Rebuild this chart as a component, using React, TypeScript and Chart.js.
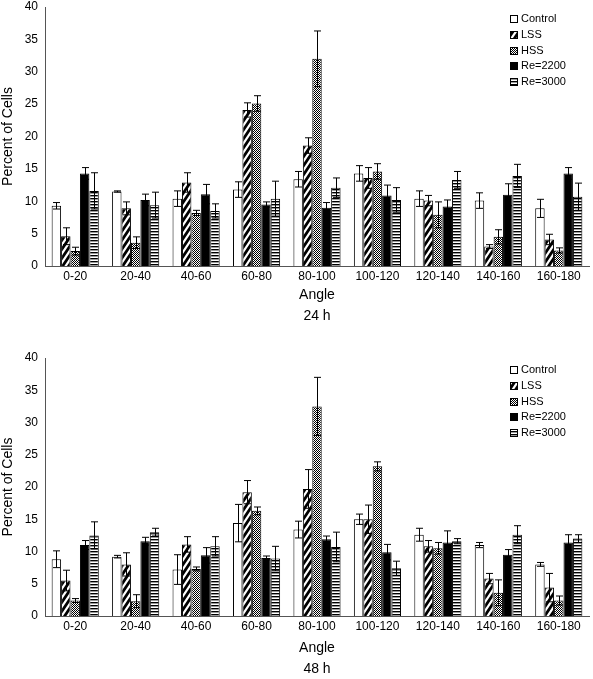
import React, { useEffect, useRef } from "react";
import { Chart, registerables } from "chart.js";
Chart.register(...registerables);

const FONT = "'Liberation Sans', Arial, Helvetica, sans-serif";

const categories = ["0-20", "20-40", "40-60", "60-80", "80-100", "100-120", "120-140", "140-160", "160-180"];
const seriesNames = ["Control", "LSS", "HSS", "Re=2200", "Re=3000"];
const yTicks = [0, 5, 10, 15, 20, 25, 30, 35, 40];

// 24 h
const control24 = [9.3, 11.5, 10.4, 11.8, 13.4, 14.3, 10.4, 10.1, 8.9];
const control24Err = [0.5, 0.1, 1.2, 1.2, 1.2, 1.2, 1.2, 1.2, 1.4];
const lss24 = [4.6, 8.9, 12.9, 24.1, 18.6, 13.6, 10.1, 3.0, 4.1];
const lss24Err = [1.3, 1.0, 1.5, 1.1, 1.2, 1.6, 0.8, 0.3, 0.8];
const hss24 = [2.3, 3.6, 8.2, 25.1, 32.0, 14.6, 7.9, 4.5, 2.4];
const hss24Err = [0.6, 0.9, 0.4, 1.2, 4.3, 1.2, 2.0, 1.1, 0.4];
const re2200_24 = [14.3, 10.2, 11.1, 9.5, 9.0, 10.9, 9.2, 11.0, 14.3];
const re2200_24Err = [0.9, 0.9, 1.5, 0.4, 0.8, 1.6, 1.0, 1.7, 0.9];
const re3000_24 = [11.6, 9.4, 8.5, 10.4, 12.1, 10.2, 13.3, 13.9, 10.7];
const re3000_24Err = [2.8, 2.0, 1.1, 2.7, 1.5, 1.9, 1.3, 1.8, 2.1];

// 48 h
const control48 = [8.8, 9.2, 7.2, 14.4, 13.4, 15.0, 12.6, 11.0, 8.0];
const control48Err = [1.3, 0.2, 2.3, 2.9, 1.3, 0.8, 1.0, 0.4, 0.3];
const lss48 = [5.5, 8.0, 11.1, 19.2, 19.7, 15.0, 10.8, 5.8, 4.4];
const lss48Err = [1.6, 1.8, 1.2, 1.8, 3.0, 2.2, 0.9, 0.8, 2.2];
const hss48 = [2.4, 2.3, 7.3, 16.3, 32.5, 23.2, 10.5, 3.6, 2.4];
const hss48Err = [0.3, 1.0, 0.3, 0.6, 4.5, 0.7, 0.9, 2.0, 0.7];
const re2200_48 = [11.0, 11.6, 9.4, 9.0, 11.9, 9.9, 11.4, 9.5, 11.4];
const re2200_48Err = [0.7, 0.6, 1.2, 0.3, 0.5, 1.2, 1.8, 0.8, 1.2];
const re3000_48 = [12.5, 13.0, 10.8, 8.9, 10.7, 7.4, 11.6, 12.6, 12.0];
const re3000_48Err = [2.1, 0.6, 1.5, 1.9, 2.3, 1.1, 0.4, 1.4, 0.6];

function makePattern(kind: string): any {
  const c = document.createElement("canvas");
  const g = c.getContext("2d")!;
  if (kind === "diag") {
    const w = 6, h = 9;
    c.width = w; c.height = h;
    g.fillStyle = "#fff"; g.fillRect(0, 0, w, h);
    g.strokeStyle = "#000"; g.lineWidth = 2.8;
    g.beginPath();
    for (let k = -1; k <= 1; k++) {
      g.moveTo(k * w - w, 2 * h);
      g.lineTo(k * w + 2 * w, -h);
    }
    g.stroke();
  } else if (kind === "checker") {
    c.width = 2; c.height = 2;
    g.fillStyle = "#fff"; g.fillRect(0, 0, 2, 2);
    g.fillStyle = "#000"; g.fillRect(0, 0, 1, 1); g.fillRect(1, 1, 1, 1);
  } else if (kind === "hlines") {
    c.width = 4; c.height = 3;
    g.fillStyle = "#fff"; g.fillRect(0, 0, 4, 3);
    g.fillStyle = "#000"; g.fillRect(0, 0, 4, 1);
    g.fillStyle = "#999"; g.fillRect(0, 1, 4, 1);
  } else {
    return kind;
  }
  return g.createPattern(c, "repeat");
}

const errorBarPlugin = {
  id: "errorBars",
  afterDatasetsDraw(chart: any, _args: any, opts: any) {
    const errs: number[][] = opts.errors || [];
    const ctx = chart.ctx;
    const y = chart.scales.y;
    ctx.save();
    ctx.strokeStyle = "#000";
    ctx.lineWidth = 1;
    chart.data.datasets.forEach((ds: any, i: number) => {
      const meta = chart.getDatasetMeta(i);
      meta.data.forEach((bar: any, j: number) => {
        const v = ds.data[j];
        const e = errs[i] ? errs[i][j] : 0;
        if (!e) return;
        const x = Math.round(bar.x) + 0.5;
        const yt = y.getPixelForValue(v + e);
        const yb = y.getPixelForValue(Math.max(0, v - e));
        const hw = 3.5;
        ctx.beginPath();
        ctx.moveTo(x, yt); ctx.lineTo(x, yb);
        ctx.moveTo(x - hw, yt); ctx.lineTo(x + hw, yt);
        ctx.moveTo(x - hw, yb); ctx.lineTo(x + hw, yb);
        ctx.stroke();
      });
    });
    ctx.restore();
  },
};

const legendPlugin = {
  id: "patternLegend",
  afterDraw(chart: any) {
    const ctx = chart.ctx;
    const area = chart.chartArea;
    const x0 = area.right - 79;
    ctx.save();
    ctx.font = "11px " + FONT;
    ctx.textBaseline = "middle";
    ctx.textAlign = "left";
    chart.data.datasets.forEach((ds: any, i: number) => {
      const cy = area.top + 12 + i * 15.8;
      ctx.fillStyle = ds.backgroundColor;
      ctx.fillRect(x0, Math.round(cy - 4), 8, 8);
      ctx.strokeStyle = "#000";
      ctx.lineWidth = 1;
      ctx.strokeRect(x0 + 0.5, Math.round(cy - 4) + 0.5, 7, 7);
      ctx.fillStyle = "#000";
      ctx.fillText(ds.label, x0 + 11, cy);
    });
    ctx.restore();
  },
};

type PanelProps = {
  values: number[][];
  errors: number[][];
  subtitle: string;
  top: number;
  height: number;
  padTop: number;
  xHeight: number;
};

function Panel({ values, errors, subtitle, top, height, padTop, xHeight }: PanelProps) {
  const ref = useRef<HTMLCanvasElement>(null);
  useEffect(() => {
    const fills = ["#fff", makePattern("diag"), makePattern("checker"), "#000", makePattern("hlines")];
    const chart = new Chart(ref.current!, {
      type: "bar",
      data: {
        labels: categories,
        datasets: seriesNames.map((name, i) => ({
          label: name,
          data: values[i],
          backgroundColor: fills[i],
          borderColor: "#000",
          borderWidth: 1,
          barPercentage: 1,
          categoryPercentage: 0.78,
        })),
      },
      options: {
        responsive: false,
        animation: false,
        layout: { padding: { top: padTop, right: 4, left: 0, bottom: 0 } },
        plugins: {
          legend: { display: false },
          tooltip: { enabled: false },
          errorBars: { errors },
        } as any,
        scales: {
          x: {
            grid: { display: false, drawTicks: false },
            border: { display: true, color: "#555", width: 1 },
            ticks: { color: "#000", font: { family: FONT, size: 12 }, padding: 3 },
            title: {
              display: true,
              text: ["Angle", subtitle],
              color: "#000",
              font: { family: FONT, size: 14, lineHeight: 20.5 / 14 },
              padding: 0,
            },
            afterFit: (s: any) => {
              s.height = xHeight;
              s.paddingLeft = 0;
              s.paddingRight = 0;
            },
          },
          y: {
            min: 0,
            max: 40,
            afterBuildTicks: (s: any) => {
              s.ticks = yTicks.map((v) => ({ value: v }));
            },
            grid: { display: false, drawTicks: false },
            border: { display: true, color: "#555", width: 1 },
            ticks: { color: "#000", font: { family: FONT, size: 12 }, padding: 7 },
            title: {
              display: true,
              text: "Percent of Cells",
              color: "#000",
              font: { family: FONT, size: 14 },
              padding: 0,
            },
            afterFit: (s: any) => {
              s.width = 45;
              s.paddingTop = 0;
              s.paddingBottom = 0;
            },
          },
        },
      },
      plugins: [errorBarPlugin, legendPlugin],
    } as any);
    return () => chart.destroy();
  }, []);
  return (
    <canvas
      ref={ref}
      width={593}
      height={height}
      style={{ position: "absolute", left: 0, top, width: 593, height }}
    />
  );
}

export default function App() {
  return (
    <div style={{ position: "absolute", left: 0, top: 0, width: 593, height: 679, background: "#fff" }}>
      <Panel
        values={[control24, lss24, hss24, re2200_24, re3000_24]}
        errors={[control24Err, lss24Err, hss24Err, re2200_24Err, re3000_24Err]}
        subtitle="24 h"
        top={0}
        height={326}
        padTop={7}
        xHeight={60}
      />
      <Panel
        values={[control48, lss48, hss48, re2200_48, re3000_48]}
        errors={[control48Err, lss48Err, hss48Err, re2200_48Err, re3000_48Err]}
        subtitle="48 h"
        top={326}
        height={353}
        padTop={32}
        xHeight={63}
      />
    </div>
  );
}
